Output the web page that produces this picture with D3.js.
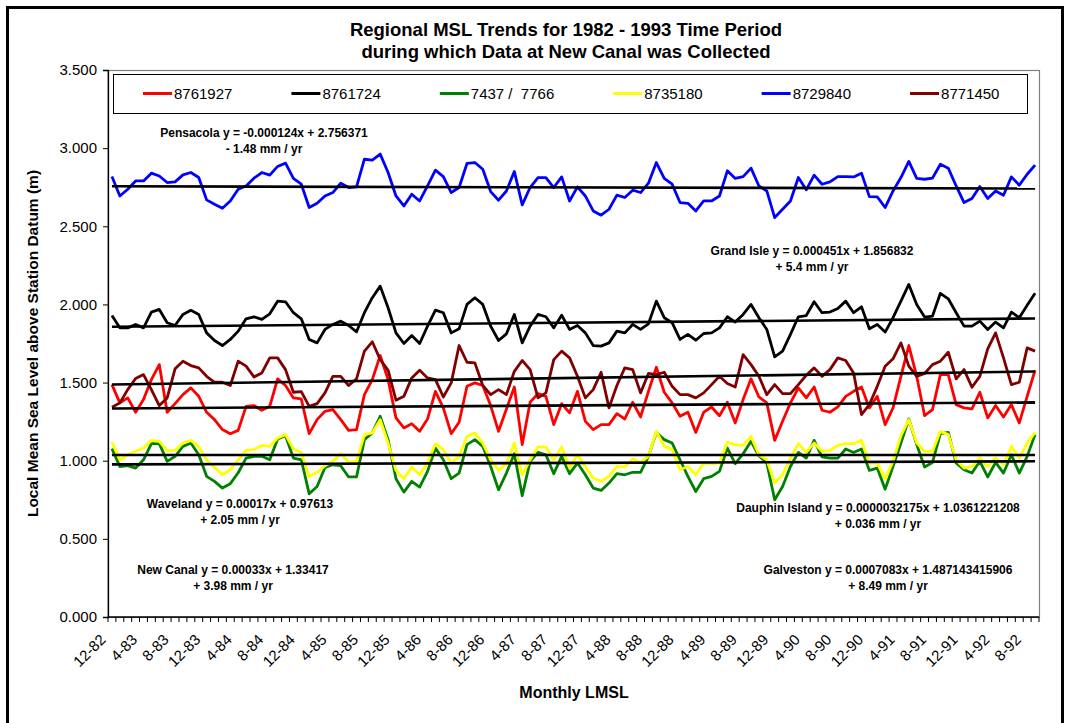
<!DOCTYPE html>
<html><head><meta charset="utf-8">
<script src="https://cdn.jsdelivr.net/npm/d3@7"></script>
<style>
body{margin:0;background:#fff;}
svg text{font-family:Arial,"Liberation Sans",sans-serif;}
</style>
</head><body>
<svg id="chart" width="1066" height="723"></svg>
<script>
// ---------- DATA ----------
const startMonth = 12, startYear = 1982, nMonths = 118;
const categories = [];
for (let i = 0; i < nMonths; i++) {
  const m = (startMonth - 1 + i) % 12 + 1;
  const y = (startYear + Math.floor((startMonth - 1 + i) / 12)) % 100;
  categories.push(m + "-" + String(y).padStart(2, "0"));
}
const tickLabels = ["12-82","4-83","8-83","12-83","4-84","8-84","12-84","4-85","8-85","12-85",
  "4-86","8-86","12-86","4-87","8-87","12-87","4-88","8-88","12-88","4-89","8-89","12-89",
  "4-90","8-90","12-90","4-91","8-91","12-91","4-92","8-92"];
const yTicks = [0, 0.5, 1, 1.5, 2, 2.5, 3, 3.5];

const seriesNames = ["8761927", "8761724", "7437 /  7766", "8735180", "8729840", "8771450"];
const seriesColors = ["#ff0000", "#000000", "#008000", "#ffff00", "#0000ff", "#800000"];

const s8761927 = [1.487,1.370,1.402,1.310,1.391,1.519,1.615,1.310,1.365,1.423,1.466,1.412,1.310,1.263,1.199,1.173,1.194,1.348,1.353,1.323,1.348,1.524,1.481,1.402,1.395,1.173,1.263,1.316,1.327,1.263,1.194,1.199,1.423,1.519,1.673,1.519,1.274,1.210,1.237,1.188,
 1.267,1.444,1.338,1.173,1.246,1.476,1.498,1.481,1.353,1.188,1.331,1.472,1.103,1.374,1.429,1.412,1.231,1.365,1.306,1.444,1.252,1.199,1.231,1.231,1.301,1.267,1.374,1.280,1.444,1.598,1.438,1.370,1.284,1.310,1.181,1.310,1.344,1.288,
 1.374,1.242,1.391,1.524,1.408,1.370,1.130,1.252,1.370,1.466,1.402,1.472,1.323,1.310,1.344,1.412,1.444,1.472,1.338,1.412,1.231,1.338,1.540,1.737,1.540,1.288,1.327,1.551,1.551,1.359,1.338,1.331,1.438,1.274,1.353,1.280,1.359,1.242,1.412,1.579];
const s8761724 = [1.929,1.850,1.850,1.872,1.850,1.951,1.968,1.883,1.865,1.936,1.962,1.936,1.818,1.769,1.737,1.776,1.829,1.908,1.921,1.904,1.940,2.021,2.017,1.947,1.908,1.776,1.754,1.840,1.872,1.893,1.865,1.825,1.947,2.043,2.117,1.979,1.818,1.750,1.801,1.750,
 1.861,1.964,1.947,1.818,1.844,2.000,2.043,2.000,1.861,1.769,1.812,1.936,1.754,1.861,1.936,1.921,1.850,1.931,1.840,1.865,1.818,1.737,1.733,1.754,1.829,1.818,1.872,1.840,1.876,2.021,1.915,1.883,1.776,1.808,1.771,1.814,1.818,1.850,
 1.921,1.887,1.936,2.000,1.915,1.840,1.665,1.701,1.808,1.921,1.929,2.017,1.947,1.951,1.974,2.021,1.947,1.985,1.844,1.872,1.823,1.915,2.021,2.128,2.000,1.919,1.925,2.071,2.036,1.947,1.861,1.861,1.893,1.840,1.887,1.850,1.951,1.915,1.994,2.071];
const s7437 = [1.077,0.963,0.968,0.953,1.006,1.109,1.109,0.996,1.028,1.092,1.113,1.038,0.900,0.868,0.825,0.853,0.923,1.017,1.028,1.028,1.006,1.139,1.160,1.017,1.006,0.788,0.835,0.957,0.974,0.968,0.896,0.896,1.135,1.178,1.284,1.135,0.885,0.799,0.868,0.831,
 0.932,1.081,1.006,0.885,0.921,1.103,1.135,1.092,0.963,0.814,0.921,1.045,0.776,0.996,1.053,1.038,0.917,1.028,0.917,0.985,0.910,0.825,0.810,0.857,0.917,0.910,0.926,0.926,1.028,1.181,1.135,1.113,1.006,0.900,0.803,0.885,0.900,0.932,
 1.081,0.981,1.045,1.124,1.032,0.985,0.750,0.835,0.963,1.053,1.017,1.130,1.024,1.017,1.017,1.075,1.053,1.075,0.938,0.953,0.818,0.963,1.113,1.267,1.103,0.960,0.989,1.173,1.181,0.985,0.942,0.921,0.996,0.896,0.989,0.921,1.038,0.921,1.028,1.167];
const s8735180 = [1.120,1.006,1.038,1.060,1.081,1.130,1.124,1.064,1.066,1.113,1.130,1.092,1.006,0.957,0.910,0.942,1.006,1.066,1.071,1.098,1.092,1.145,1.167,1.075,1.053,0.900,0.926,0.968,0.996,1.045,0.989,0.996,1.167,1.178,1.263,1.113,0.938,0.885,0.960,0.910,
 0.989,1.109,1.071,0.985,1.028,1.155,1.178,1.113,1.006,0.938,0.981,1.113,0.910,1.006,1.088,1.088,1.006,1.088,0.953,1.038,0.963,0.889,0.868,0.900,0.963,0.960,1.011,0.989,1.028,1.188,1.092,1.071,0.942,0.963,0.910,0.985,0.981,0.985,
 1.118,1.103,1.098,1.155,1.038,1.006,0.857,0.910,1.017,1.109,1.053,1.113,1.060,1.066,1.098,1.109,1.109,1.130,0.985,0.985,0.885,0.996,1.160,1.263,1.113,1.060,1.060,1.188,1.167,1.006,0.953,0.963,1.017,0.963,1.017,0.974,1.092,1.017,1.113,1.181];
const s8729840 = [2.818,2.694,2.737,2.790,2.790,2.840,2.822,2.780,2.784,2.829,2.844,2.812,2.669,2.641,2.615,2.662,2.737,2.758,2.808,2.844,2.827,2.883,2.904,2.806,2.769,2.620,2.647,2.694,2.716,2.776,2.748,2.752,2.929,2.923,2.962,2.844,2.694,2.630,2.705,2.662,
 2.758,2.859,2.818,2.716,2.748,2.902,2.908,2.865,2.722,2.667,2.726,2.851,2.637,2.748,2.812,2.812,2.748,2.816,2.662,2.752,2.694,2.598,2.571,2.609,2.699,2.684,2.731,2.716,2.776,2.908,2.806,2.769,2.652,2.647,2.598,2.662,2.662,2.694,
 2.855,2.806,2.818,2.872,2.758,2.726,2.556,2.609,2.662,2.812,2.733,2.827,2.769,2.784,2.818,2.818,2.816,2.840,2.690,2.688,2.620,2.726,2.812,2.915,2.806,2.801,2.808,2.897,2.872,2.758,2.652,2.678,2.754,2.678,2.726,2.699,2.816,2.763,2.833,2.891];
const s8771450 = [1.342,1.370,1.455,1.526,1.551,1.455,1.353,1.402,1.588,1.637,1.609,1.594,1.540,1.502,1.502,1.481,1.637,1.605,1.536,1.562,1.658,1.658,1.583,1.438,1.442,1.348,1.365,1.434,1.540,1.540,1.481,1.524,1.701,1.761,1.647,1.579,1.387,1.412,1.530,1.579,
 1.530,1.519,1.408,1.498,1.737,1.630,1.626,1.481,1.423,1.455,1.423,1.572,1.641,1.583,1.402,1.434,1.647,1.701,1.658,1.540,1.402,1.455,1.566,1.338,1.481,1.594,1.583,1.434,1.558,1.551,1.566,1.476,1.423,1.423,1.402,1.434,1.487,1.540,
 1.494,1.472,1.679,1.615,1.540,1.423,1.487,1.429,1.429,1.487,1.547,1.594,1.540,1.583,1.658,1.641,1.562,1.295,1.359,1.476,1.605,1.652,1.754,1.605,1.540,1.558,1.615,1.637,1.694,1.524,1.583,1.470,1.540,1.716,1.818,1.658,1.487,1.502,1.722,1.701];
const seriesValues = [s8761927, s8761724, s7437, s8735180, s8729840, s8771450];

// linear trends (x = month number 1..n), same order as series
const trendSlopes = [0.00033, 0.000451, 0.00017, 0.0000032175, -0.000124, 0.0007083];
const trendIntercepts = [1.33417, 1.856832, 0.97613, 1.0361221208, 2.756371, 1.487143415906];

const titleLines = ["Regional MSL Trends for 1982 - 1993 Time Period", "during which Data at New Canal was Collected"];
const annotations = [
  {l1: "Pensacola y = -0.000124x + 2.756371", l2: "- 1.48 mm / yr", x: 264, y: 137},
  {l1: "Grand Isle y = 0.000451x + 1.856832", l2: "+ 5.4 mm / yr", x: 812, y: 255},
  {l1: "Waveland y = 0.00017x + 0.97613", l2: "+ 2.05 mm / yr", x: 240, y: 508},
  {l1: "New Canal y = 0.00033x + 1.33417", l2: "+ 3.98 mm / yr", x: 233, y: 574},
  {l1: "Dauphin Island y = 0.0000032175x + 1.0361221208", l2: "+ 0.036 mm / yr", x: 878, y: 512},
  {l1: "Galveston y = 0.0007083x + 1.487143415906", l2: "+ 8.49 mm / yr", x: 888, y: 574}
];

// ---------- LAYOUT ----------
const svg = d3.select("#chart");
const L = 108, R = 1039, T = 70, B = 617;

// outer chart border
svg.append("rect").attr("x", 7.5).attr("y", 7.5).attr("width", 1055).attr("height", 740)
  .attr("fill", "#fff").attr("stroke", "#000").attr("stroke-width", 3);

const x = d3.scaleBand().domain(categories).range([L, R]).paddingInner(0).paddingOuter(0);
const cx = c => x(c) + x.bandwidth() / 2;
const y = d3.scaleLinear().domain([0, 3.5]).range([B, T]);

// plot area border
svg.append("rect").attr("x", L).attr("y", T + 0.5).attr("width", R - L + 0.5).attr("height", B - T)
  .attr("fill", "#fff").attr("stroke", "#808080").attr("stroke-width", 1.2);

// title
svg.selectAll("text.title").data(titleLines).join("text").attr("class", "title")
  .attr("x", 566).attr("y", (d, i) => 36 + i * 22).attr("text-anchor", "middle")
  .attr("font-size", 18.5).attr("font-weight", "bold").text(d => d);

// y axis
const yAxis = d3.axisLeft(y).tickValues(yTicks).tickFormat(d3.format(".3f")).tickSize(5).tickPadding(6);
const gy = svg.append("g").attr("transform", `translate(${L},0)`).call(yAxis);
gy.select(".domain").attr("stroke", "#000").attr("stroke-width", 1.3);
gy.selectAll(".tick line").attr("stroke", "#000");
gy.selectAll(".tick text").attr("font-size", 15).attr("font-family", "Arial, 'Liberation Sans', sans-serif").attr("fill", "#000");

// x axis: tick marks at category boundaries
const boundaries = categories.map(c => x(c)).concat([R]);
const gx = svg.append("g");
gx.append("line").attr("x1", L).attr("x2", R).attr("y1", B).attr("y2", B).attr("stroke", "#000").attr("stroke-width", 1.3);
gx.selectAll("line.tk").data(boundaries).join("line").attr("class", "tk")
  .attr("x1", d => d).attr("x2", d => d).attr("y1", B).attr("y2", B + 5).attr("stroke", "#000");
gx.selectAll("text").data(tickLabels).join("text")
  .attr("transform", d => `translate(${cx(d) - 9},${B + 20}) rotate(-45)`)
  .attr("text-anchor", "end").attr("dy", "0.35em").attr("font-size", 15).text(d => d);

// axis titles
svg.append("text").attr("transform", `translate(38,${(T + B) / 2}) rotate(-90)`)
  .attr("text-anchor", "middle").attr("font-size", 15.5).attr("font-weight", "bold")
  .text("Local Mean Sea Level above Station Datum (m)");
svg.append("text").attr("x", 574).attr("y", 698).attr("text-anchor", "middle")
  .attr("font-size", 16).attr("font-weight", "bold").text("Monthly LMSL");

// series lines
const line = d3.line().x((d, i) => cx(categories[i])).y(d => y(d));
const gs = svg.append("g");
seriesValues.forEach((vals, k) => {
  gs.append("path").datum(vals).attr("d", line).attr("fill", "none")
    .attr("stroke", seriesColors[k]).attr("stroke-width", 2.8).attr("stroke-linejoin", "round");
});
// trend lines
seriesValues.forEach((vals, k) => {
  const pts = [0, vals.length - 1].map(i => [cx(categories[i]), y(trendSlopes[k] * (i + 1) + trendIntercepts[k])]);
  gs.append("line").attr("x1", pts[0][0]).attr("y1", pts[0][1]).attr("x2", pts[1][0]).attr("y2", pts[1][1])
    .attr("stroke", "#000").attr("stroke-width", 2.6);
});

// legend
const lg = svg.append("g");
lg.append("rect").attr("x", 113.5).attr("y", 74.5).attr("width", 914).attr("height", 39)
  .attr("fill", "#fff").attr("stroke", "#000").attr("stroke-width", 1);
let lx = 143;
seriesNames.forEach((n, k) => {
  lg.append("line").attr("x1", lx).attr("x2", lx + 29).attr("y1", 93.5).attr("y2", 93.5)
    .attr("stroke", seriesColors[k]).attr("stroke-width", 3);
  const t = lg.append("text").attr("x", lx + 31).attr("y", 99).attr("font-size", 15)
    .style("white-space", "pre").text(n);
  lx += 31 + t.node().getComputedTextLength() + 59;
});

// annotations
const ga = svg.append("g");
annotations.forEach(a => {
  ga.append("text").attr("x", a.x).attr("y", a.y).attr("text-anchor", "middle")
    .attr("font-size", 12).attr("font-weight", "bold").text(a.l1);
  ga.append("text").attr("x", a.x).attr("y", a.y + 16).attr("text-anchor", "middle")
    .attr("font-size", 12).attr("font-weight", "bold").text(a.l2);
});
</script>
</body></html>
